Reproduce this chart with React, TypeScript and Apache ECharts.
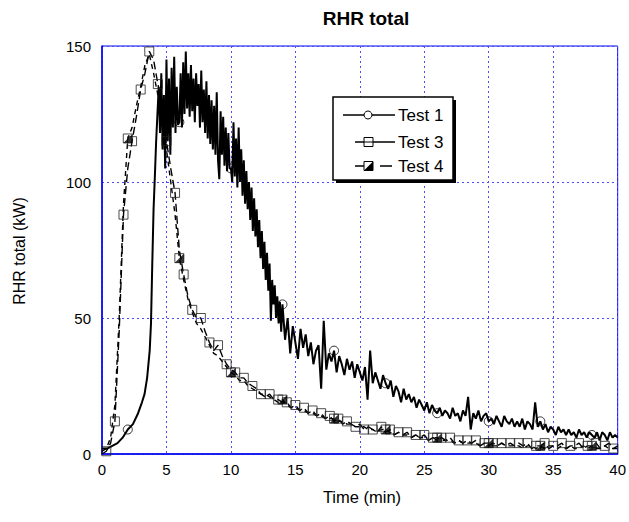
import React, { useEffect, useRef } from "react";
import * as echarts from "echarts";

// ---------- data ----------
const X_MIN = 0;
const X_MAX = 40;
const X_INTERVAL = 5;
const Y_MIN = 0;
const Y_MAX = 150;
const Y_INTERVAL = 50;

// Test 1: rise (explicit times), peak (0.1 min step), tail (0.2 min step)
const TEST1_RISE_T = [0, 0.4, 0.8, 1.2, 1.6, 2.0, 2.4, 2.8, 3.1, 3.3, 3.5, 3.7, 3.8, 3.9, 4.0, 4.1, 4.2, 4.3];
const TEST1_RISE_V = [2, 2, 3, 4, 6, 9, 11, 15, 19, 22, 28, 38, 48, 70, 90, 102, 115, 125];

const TEST1_PEAK_START = 4.4;
const TEST1_PEAK_STEP = 0.1;
const TEST1_PEAK_V = [
  135, 118, 140, 112, 132, 105, 145, 115, 138, 110,
  142, 120, 146, 118, 135, 121, 122, 140, 120, 144,
  125, 148, 127, 140, 124, 143, 126, 138, 122, 140,
  128, 136, 120, 141, 122, 134, 118, 137, 116, 132,
  114, 130, 112, 128, 110, 133, 108, 101, 126, 110,
  124, 106, 120, 104, 118, 105, 105, 100, 122, 102,
  116, 98, 120, 100, 112, 95, 108, 92, 104, 90,
  100, 86, 98, 82, 94, 80, 90, 76, 86, 72,
  82, 68, 78, 64, 74, 60, 70, 49, 64, 55,
  62, 50, 58, 48, 56, 45, 55,
];

const TEST1_TAIL_START = 14.2;
const TEST1_TAIL_STEP = 0.2;
const TEST1_TAIL_V = [
  42, 50, 37, 47, 41, 35, 46, 39, 44, 36,
  41, 33, 38, 40, 24, 49, 31, 37, 34, 38,
  30, 36, 33, 29, 35, 31, 34, 28, 33, 30,
  27, 32, 20, 38, 26, 30, 27, 24, 29, 26,
  24, 27, 21, 25, 23, 19, 24, 20, 22, 19,
  21, 17, 20, 18, 16, 19, 15, 18, 16, 15,
  17, 14, 16, 15, 13, 17, 14, 15, 12, 16,
  14, 21, 9, 15, 13, 16, 12, 14, 15, 12,
  13, 11, 14, 12, 10, 14, 12, 11, 13, 10,
  12, 10, 13, 9, 12, 11, 9, 19, 10, 12,
  9, 11, 8, 10, 9, 7, 10, 8, 9, 7,
  9, 7, 8, 6, 9, 7, 8, 6, 8, 7,
  6, 8, 5, 8, 7, 5, 8, 6, 7, 6,
];
const TEST1_MARKER_T = [2, 6, 10, 14, 18, 22, 26, 30, 34, 38];

// Tests 3 and 4: one sample every 20 s (1/3 min)
const TEST34_STEP = 1 / 3;
const TEST3_V = [
  0, 1, 4, 12, 45, 88, 105, 115, 124, 134,
  140, 148, 145, 136, 128, 115, 105, 96, 75, 66,
  58, 53, 50, 50, 45, 41, 38, 40, 36, 33,
  31, 30, 28, 28, 26, 25, 24, 22, 21, 22,
  20, 20, 19, 19, 17, 18, 16, 17, 15, 16,
  14, 15, 13, 14, 12, 13, 11, 12, 11, 10,
  11, 9, 10, 9, 8, 10, 8, 9, 7, 8,
  7, 8, 6, 7, 6, 7, 5, 6, 5, 6,
  5, 6, 4, 5, 4, 5, 4, 5, 3, 4,
  3, 4, 3, 4, 3, 4, 3, 4, 3, 4,
  2, 3, 3, 4, 2, 3, 3, 4, 2, 3,
  3, 4, 2, 3, 3, 4, 2, 3, 4, 2,
  3,
];
const TEST4_V = [
  1, 2, 6, 18, 50, 92, 116, 120, 128, 135,
  143, 147, 140, 132, 125, 112, 100, 88, 72, 64,
  57, 52, 48, 46, 43, 40, 37, 36, 34, 32,
  30, 29, 27, 27, 25, 24, 23, 22, 22, 21,
  20, 19, 20, 18, 17, 17, 16, 16, 15, 15,
  14, 14, 13, 13, 13, 12, 12, 11, 11, 10,
  10, 10, 9, 9, 8, 9, 9, 8, 7, 8,
  7, 7, 6, 7, 6, 6, 5, 6, 6, 5,
  5, 5, 4, 5, 4, 4, 4, 4, 3, 4,
  4, 3, 3, 4, 3, 3, 3, 3, 2, 3,
  3, 2, 3, 2, 3, 3, 2, 3, 2, 3,
  2, 2, 3, 2, 3, 2, 2, 3, 2, 2,
  2,
];
const TEST3_MARKER_EVERY = 2;
const TEST3_MARKER_FIRST = 1;
const TEST4_MARKER_EVERY = 12;
const TEST4_MARKER_FIRST = 6;

const TITLE = "RHR total";
const X_NAME = "Time (min)";
const Y_NAME = "RHR total (kW)";
const LEGEND_NAMES = ["Test 1", "Test 3", "Test 4"];

// ---------- build series ----------
const r2 = (v: number) => Math.round(v * 1000) / 1000;

const test1: number[][] = [];
TEST1_RISE_T.forEach((t, i) => test1.push([t, TEST1_RISE_V[i]]));
TEST1_PEAK_V.forEach((v, i) => test1.push([r2(TEST1_PEAK_START + i * TEST1_PEAK_STEP), v]));
TEST1_TAIL_V.forEach((v, i) => test1.push([r2(TEST1_TAIL_START + i * TEST1_TAIL_STEP), v]));

const test3 = TEST3_V.map((v, i) => [r2(i * TEST34_STEP), v]);
const test4 = TEST4_V.map((v, i) => [r2(i * TEST34_STEP), v]);

const nearest = (data: number[][], t: number) =>
  data.reduce((b, p) => (Math.abs(p[0] - t) < Math.abs(b[0] - t) ? p : b), data[0]);

const test1Markers = TEST1_MARKER_T.map((t) => nearest(test1, t));
const test3Markers = test3.filter((_, i) => i >= TEST3_MARKER_FIRST && (i - TEST3_MARKER_FIRST) % TEST3_MARKER_EVERY === 0);
const test4Markers = test4.filter((_, i) => i >= TEST4_MARKER_FIRST && (i - TEST4_MARKER_FIRST) % TEST4_MARKER_EVERY === 0);

const FONT = "Liberation Sans, Arial, sans-serif";
const BLUE = "#0000ee";
const GRID_BLUE = "#4b4bff";
const TRI = "path://M10,0 L10,10 L0,10 Z";

export default function App() {
  const ref = useRef<HTMLDivElement>(null);
  useEffect(() => {
    if (!ref.current) return;
    const chart = echarts.init(ref.current, null, { renderer: "svg" });

    const lg = { x: 333, y: 97, w: 120, h: 83 };
    const rows = [115, 142, 166];

    chart.setOption({
      animation: false,
      backgroundColor: "#ffffff",
      grid: { left: 102, right: 7, top: 46, bottom: 68, show: true, borderColor: BLUE, borderWidth: 1, backgroundColor: "transparent" },
      xAxis: {
        type: "value",
        min: X_MIN,
        max: X_MAX,
        interval: X_INTERVAL,
        axisLine: { show: true, lineStyle: { color: BLUE, width: 1.5 } },
        axisTick: { show: false },
        axisLabel: { color: "#000", fontSize: 15, fontFamily: FONT, margin: 8 },
        splitLine: { show: true, lineStyle: { color: GRID_BLUE, type: [2, 3], width: 1 } },
      },
      yAxis: {
        type: "value",
        min: Y_MIN,
        max: Y_MAX,
        interval: Y_INTERVAL,
        axisLine: { show: true, lineStyle: { color: BLUE, width: 1.5 } },
        axisTick: { show: false },
        axisLabel: { color: "#000", fontSize: 15, fontFamily: FONT, margin: 11 },
        splitLine: { show: true, lineStyle: { color: GRID_BLUE, type: [2, 3], width: 1 } },
      },
      series: [
        { name: LEGEND_NAMES[0], type: "line", data: test1, showSymbol: false, symbol: "none", lineStyle: { color: "#000", width: 2 }, z: 3 },
        { name: LEGEND_NAMES[1], type: "line", data: test3, showSymbol: false, symbol: "none", lineStyle: { color: "#000", width: 1.4, type: [8, 4] }, z: 2 },
        { name: LEGEND_NAMES[2], type: "line", data: test4, showSymbol: false, symbol: "none", lineStyle: { color: "#000", width: 1.4, type: [5, 4] }, z: 2 },
        { type: "scatter", data: test1Markers, symbol: "circle", symbolSize: 9, itemStyle: { color: "transparent", borderColor: "#000", borderWidth: 1 }, z: 4 },
        { type: "scatter", data: test3Markers, symbol: "rect", symbolSize: 9, itemStyle: { color: "transparent", borderColor: "#222", borderWidth: 1 }, z: 4 },
        { type: "scatter", data: test4Markers, symbol: "rect", symbolSize: 9, itemStyle: { color: "transparent", borderColor: "#222", borderWidth: 1 }, z: 4 },
        { type: "scatter", data: test4Markers, symbol: TRI, symbolSize: 9, itemStyle: { color: "#000" }, z: 4 },
      ],
      graphic: [
        { type: "text", x: 366, y: 18, style: { text: TITLE, fontSize: 19, fontWeight: "bold", fontFamily: FONT, fill: "#000", align: "center", verticalAlign: "middle" } },
        { type: "text", x: 362, y: 497, style: { text: X_NAME, fontSize: 16.5, fontFamily: FONT, fill: "#000", align: "center", verticalAlign: "middle" } },
        { type: "text", x: 19, y: 251, rotation: Math.PI / 2, style: { text: Y_NAME, fontSize: 16, fontFamily: FONT, fill: "#000", align: "center", verticalAlign: "middle" } },
        // legend
        { type: "rect", shape: { x: lg.x + 3, y: lg.y + 3, width: lg.w, height: lg.h }, style: { fill: "#000" }, z: 100 },
        { type: "rect", shape: { x: lg.x, y: lg.y, width: lg.w, height: lg.h }, style: { fill: "#fff", stroke: "#000", lineWidth: 1.5 }, z: 101 },
        // Test 1
        { type: "line", shape: { x1: 343, y1: rows[0], x2: 395, y2: rows[0] }, style: { stroke: "#000", lineWidth: 1.5 }, z: 102 },
        { type: "circle", shape: { cx: 368, cy: rows[0], r: 4 }, style: { fill: "#fff", stroke: "#000", lineWidth: 1 }, z: 103 },
        { type: "text", x: 398, y: rows[0], style: { text: LEGEND_NAMES[0], fontSize: 17, fontFamily: FONT, fill: "#000", verticalAlign: "middle" }, z: 102 },
        // Test 3
        { type: "line", shape: { x1: 355, y1: rows[1], x2: 395, y2: rows[1] }, style: { stroke: "#000", lineWidth: 1.5 }, z: 102 },
        { type: "rect", shape: { x: 364, y: rows[1] - 4.5, width: 9, height: 9 }, style: { fill: "#fff", stroke: "#000", lineWidth: 1 }, z: 103 },
        { type: "line", shape: { x1: 364, y1: rows[1], x2: 373, y2: rows[1] }, style: { stroke: "#000", lineWidth: 1 }, z: 104 },
        { type: "text", x: 398, y: rows[1], style: { text: LEGEND_NAMES[1], fontSize: 17, fontFamily: FONT, fill: "#000", verticalAlign: "middle" }, z: 102 },
        // Test 4
        { type: "line", shape: { x1: 355, y1: rows[2], x2: 364, y2: rows[2] }, style: { stroke: "#000", lineWidth: 1.5 }, z: 102 },
        { type: "line", shape: { x1: 380, y1: rows[2], x2: 392, y2: rows[2] }, style: { stroke: "#000", lineWidth: 1.5 }, z: 102 },
        { type: "rect", shape: { x: 364, y: rows[2] - 4.5, width: 9, height: 9 }, style: { fill: "#fff", stroke: "#000", lineWidth: 1 }, z: 103 },
        { type: "polygon", shape: { points: [[373, rows[2] - 4.5], [373, rows[2] + 4.5], [364, rows[2] + 4.5]] }, style: { fill: "#000" }, z: 104 },
        { type: "text", x: 398, y: rows[2], style: { text: LEGEND_NAMES[2], fontSize: 17, fontFamily: FONT, fill: "#000", verticalAlign: "middle" }, z: 102 },
      ],
    });
    return () => chart.dispose();
  }, []);
  return <div ref={ref} style={{ position: "absolute", left: 0, top: 0, width: 629, height: 522 }} />;
}
